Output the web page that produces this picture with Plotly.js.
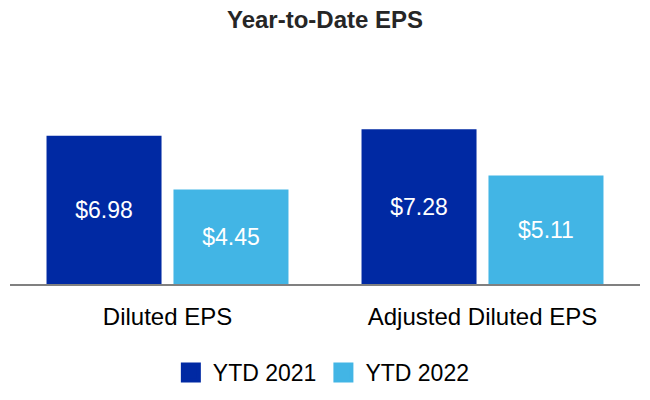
<!DOCTYPE html>
<html>
<head>
<meta charset="utf-8">
<script src="https://cdn.plot.ly/plotly-3.0.1.min.js"></script>
<style>html,body{margin:0;padding:0;background:#fff;}#chart{width:650px;height:400px;}</style>
</head>
<body>
<div id="chart"></div>
<script>
var categories = ["Diluted EPS", "Adjusted Diluted EPS"];
var seriesNames = ["YTD 2021", "YTD 2022"];
var ytd2021 = [6.98, 7.28];
var ytd2022 = [4.45, 5.11];
var colors = ["#0029A3", "#42B5E5"];

function fmt(v){ return "$" + v.toFixed(2); }

var font = "Liberation Sans, Arial, sans-serif";
var data = [
  {type:"bar", x:categories, y:ytd2021, name:seriesNames[0], marker:{color:colors[0]},
   text:ytd2021.map(fmt), textposition:"inside", insidetextanchor:"middle",
   textfont:{color:"#fff", size:23, family:font}, showlegend:false, hoverinfo:"none"},
  {type:"bar", x:categories, y:ytd2022, name:seriesNames[1], marker:{color:colors[1]},
   text:ytd2022.map(fmt), textposition:"inside", insidetextanchor:"middle",
   textfont:{color:"#fff", size:23, family:font}, showlegend:false, hoverinfo:"none"},
  {type:"scatter", mode:"markers", x:[categories[0]], y:[null], name:seriesNames[0],
   marker:{symbol:"square", size:16, color:colors[0], line:{color:colors[0], width:4}}},
  {type:"scatter", mode:"markers", x:[categories[0]], y:[null], name:seriesNames[1],
   marker:{symbol:"square", size:16, color:colors[1], line:{color:colors[1], width:4}}}
];

var layout = {
  width:650, height:400,
  margin:{l:10, r:10, t:114, b:116},
  paper_bgcolor:"#fff", plot_bgcolor:"#fff",
  font:{family:font, color:"#000", size:23},
  title:{text:"<b>Year-to-Date EPS</b>", x:0.5, xanchor:"center", y:0.95, yanchor:"middle",
         font:{size:24, color:"#262626", family:font}},
  barmode:"group", bargap:0.194, bargroupgap:0.094,
  xaxis:{type:"category", automargin:false, showline:true, linecolor:"#808080", linewidth:2,
         ticks:"", ticklabelstandoff:10, tickfont:{size:24, color:"#000"}, showgrid:false, zeroline:false},
  yaxis:{range:[0,8], visible:false, automargin:false, showgrid:false, zeroline:false, fixedrange:true},
  legend:{orientation:"h", x:0.495, xanchor:"center", yref:"container", y:0.1225, yanchor:"top", itemwidth:34,
          font:{size:23, color:"#000"}, itemclick:false},
  showlegend:true
};

Plotly.newPlot("chart", data, layout, {displayModeBar:false, staticPlot:true});
</script>
</body>
</html>
